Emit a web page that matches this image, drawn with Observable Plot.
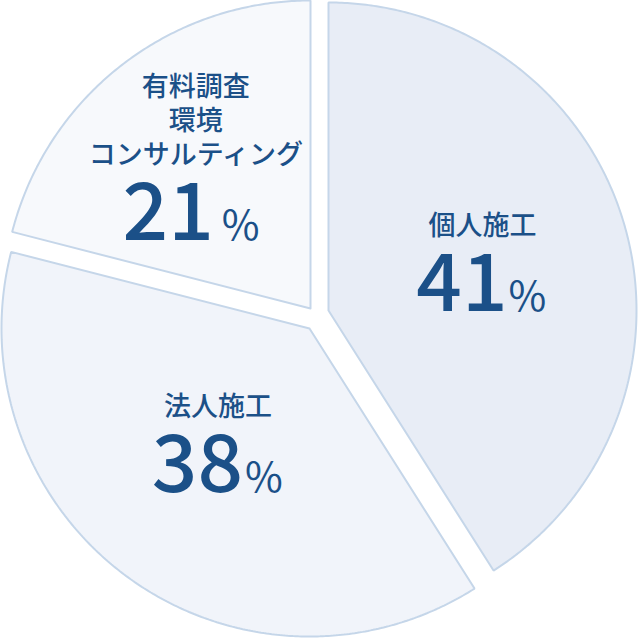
<!DOCTYPE html>
<html>
<head>
<meta charset="utf-8">
<script src="https://cdn.jsdelivr.net/npm/d3@7"></script>
<script src="https://cdn.jsdelivr.net/npm/@observablehq/plot@0.6"></script>
<style>
  html, body { margin: 0; padding: 0; background: #ffffff; }
  #chart svg { display: block; }
</style>
</head>
<body>
<div id="chart"></div>
<script>
// ---- data ----
const categories = ["個人施工", "法人施工", "有料調査\n環境\nコンサルティング"];
const shares = [41, 38, 21];
const shareLabels = ["41", "38", "21"];
const unitLabel = "%";
const fills = ["#e8edf6", "#f1f4fa", "#f7f9fc"];

// ---- layout (pixels) ----
const W = 638, H = 638;
const R = 308;                 // pie radius in px
const CX = 318, CY = 318;      // nominal pie centre in px
const explodePx = [[10, -8], [-9, 10], [-8, -10]];
const labelPolar = [[90, 0.5], [209.3, 0.607], [300.7, 0.433]]; // angle (deg, clockwise from 12 o'clock), fraction of R
const numDx = [25, 25, 18];
const pctDx = [26, 27, 26];
const labelGap = 76, lineStep = 34;
const textColor = "#1b5088";

const u = px => px / R; // px -> unit

// build slice polygons and label anchors
const total = d3.sum(shares);
let acc = 0;
const slicePts = [];
const labelRows = [];
const numRows = [];
const pctRows = [];
categories.forEach((cat, i) => {
  const a0 = acc / total * 2 * Math.PI;
  acc += shares[i];
  const a1 = acc / total * 2 * Math.PI;
  const ox = u(explodePx[i][0]), oy = u(explodePx[i][1]);
  slicePts.push({cat, x: ox, y: oy});
  const n = Math.ceil((a1 - a0) / (Math.PI / 360));
  for (let k = 0; k <= n; k++) {
    const a = a0 + (a1 - a0) * k / n;
    slicePts.push({cat, x: ox + Math.sin(a), y: oy - Math.cos(a)});
  }
  slicePts.push({cat, x: ox, y: oy});
  const la = labelPolar[i][0] * Math.PI / 180, lr = labelPolar[i][1];
  const ax = ox + lr * Math.sin(la), ay = oy - lr * Math.cos(la);
  numRows.push({x: ax + u(numDx[i]), y: ay, text: shareLabels[i]});
  pctRows.push({x: ax + u(pctDx[i]), y: ay, text: unitLabel});
  const lines = cat.split("\n");
  lines.forEach((t, j) => {
    labelRows.push({text: t, x: ax, y: ay - u(labelGap + (lines.length - 1 - j) * lineStep)});
  });
});

const xDomain = [-u(CX), u(W - CX)];
const yDomain = [-u(CY), u(H - CY)];
const font = "'Noto Sans CJK JP', 'Noto Sans', sans-serif";

const chart = Plot.plot({
  width: W,
  height: H,
  margin: 0,
  x: {domain: xDomain, range: [0, W], axis: null},
  y: {domain: yDomain, range: [0, H], axis: null},
  color: {domain: categories, range: fills},
  style: {background: "#ffffff"},
  marks: [
    Plot.line(slicePts, {x: "x", y: "y", z: "cat", fill: "cat", stroke: "#c5d6e9", strokeWidth: 2, strokeLinejoin: "miter", curve: "linear"}),
    Plot.text(labelRows, {x: "x", y: "y", text: "text", fill: textColor, fontSize: 27, fontWeight: 500, fontFamily: font, lineAnchor: "bottom", textAnchor: "middle"}),
    Plot.text(numRows, {x: "x", y: "y", text: "text", fill: textColor, fontSize: 80, fontWeight: 500, fontFamily: font, lineAnchor: "bottom", textAnchor: "end"}),
    Plot.text(pctRows, {x: "x", y: "y", text: "text", fill: textColor, fontSize: 41, fontWeight: 400, fontFamily: font, lineAnchor: "bottom", textAnchor: "start"})
  ]
});
document.getElementById("chart").appendChild(chart);
</script>
</body>
</html>
